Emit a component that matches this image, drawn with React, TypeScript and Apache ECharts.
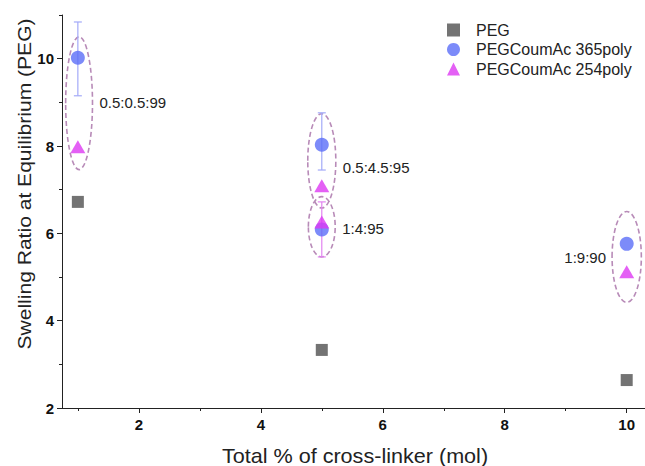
import React, { useEffect, useRef } from 'react';
import * as echarts from 'echarts';

const FONT = 'Arial, "Liberation Sans", Helvetica, sans-serif';

// Series data
const pegX = [1, 5, 10];
const pegValues = [6.72, 3.33, 2.64];
const coum365X = [1, 5, 5, 10];
const coum365Values = [10.02, 8.03, 6.09, 5.76];
const coum254X = [1, 5, 5, 10];
const coum254Values = [7.98, 7.09, 6.26, 5.12];

// Error bars
const blueErrX = [1, 5];
const blueErrLow = [9.15, 7.45];
const blueErrHigh = [10.84, 8.76];
const magErrX = [5];
const magErrLow = [5.46];
const magErrHigh = [6.72];

// Dashed group ellipses (data units) and their ratio labels
const groupX = [1.02, 5, 5, 10];
const groupY = [8.98, 7.66, 6.15, 5.46];
const groupRX = [0.22, 0.23, 0.22, 0.24];
const groupRY = [1.52, 1.08, 0.69, 1.04];
const groupLabels = ['0.5:0.5:99', '0.5:4.5:95', '1:4:95', '1:9:90'];
const groupLabelY = [8.99, 7.5, 6.12, 5.44];
const groupLabelSide = ['right', 'right', 'right', 'left'];

// Ticks
const xMajorTicks = [2, 4, 6, 8, 10];
const xMinorTicks = [1, 3, 5, 7, 9];
const yMajorTicks = [2, 4, 6, 8, 10];
const yMinorTicks = [3, 5, 7, 9, 11];

// Titles
const xTitle = 'Total % of cross-linker (mol)';
const yTitle = 'Swelling Ratio at Equilibrium (PEG)';

const X_MIN = 0.74;
const X_MAX = 10.3;
const Y_MIN = 2;
const Y_MAX = 11;

export default function App() {
  const ref = useRef<HTMLDivElement>(null);

  useEffect(() => {
    if (!ref.current) return;
    const chart = echarts.init(ref.current, null, { renderer: 'svg' });

    const axisLineStyle = { color: '#222', width: 1 };

    const errorRender = (color: string) => (params: any, api: any) => {
      const x = api.value(0);
      const lo = api.coord([x, api.value(1)]);
      const hi = api.coord([x, api.value(2)]);
      const cap = 4;
      const style = { stroke: color, lineWidth: 1.2, fill: 'none' };
      return {
        type: 'group',
        children: [
          { type: 'line', shape: { x1: lo[0], y1: lo[1], x2: hi[0], y2: hi[1] }, style },
          { type: 'line', shape: { x1: lo[0] - cap, y1: lo[1], x2: lo[0] + cap, y2: lo[1] }, style },
          { type: 'line', shape: { x1: hi[0] - cap, y1: hi[1], x2: hi[0] + cap, y2: hi[1] }, style },
        ],
      };
    };

    const option: any = {
      animation: false,
      backgroundColor: '#ffffff',
      textStyle: { fontFamily: FONT },
      grid: { left: 62, right: 0, top: 15, bottom: 58, containLabel: false },
      graphic: [
        {
          type: 'text',
          x: 355,
          y: 456,
          scaleX: 1.08,
          silent: true,
          style: {
            text: xTitle,
            fontSize: 20,
            fontFamily: FONT,
            fill: '#222',
            align: 'center',
            verticalAlign: 'middle',
          },
        },
        {
          type: 'text',
          x: 25,
          y: 184,
          rotation: Math.PI / 2,
          scaleX: 1.17,
          silent: true,
          style: {
            text: yTitle,
            fontSize: 18,
            fontFamily: FONT,
            fill: '#222',
            align: 'center',
            verticalAlign: 'middle',
          },
        },
      ],
      legend: {
        orient: 'vertical',
        left: 447,
        top: 22,
        padding: 0,
        itemWidth: 13,
        itemHeight: 13,
        itemGap: 3.5,
        textStyle: { fontSize: 16, color: '#222', fontFamily: FONT, padding: [0, 0, 0, 11], lineHeight: 16 },
        data: [
          { name: 'PEG', icon: 'rect', itemStyle: { borderWidth: 0 } },
          { name: 'PEGCoumAc 365poly', icon: 'circle' },
          { name: 'PEGCoumAc 254poly', icon: 'triangle' },
        ],
      },
      xAxis: [
        {
          type: 'value',
          min: X_MIN,
          max: X_MAX,
          position: 'bottom',
          axisLine: { show: true, lineStyle: axisLineStyle },
          axisTick: { show: true, inside: false, length: 5, customValues: xMajorTicks, lineStyle: axisLineStyle },
          axisLabel: {
            customValues: xMajorTicks,
            fontSize: 15,
            fontWeight: 'bold',
            color: '#111',
            margin: 9,
            fontFamily: FONT,
          },
          splitLine: { show: false },
        },
        {
          type: 'value',
          min: X_MIN,
          max: X_MAX,
          position: 'bottom',
          axisLine: { show: false },
          axisTick: { show: true, inside: false, length: 3, customValues: xMinorTicks, lineStyle: axisLineStyle },
          axisLabel: { show: false },
          splitLine: { show: false },
        },
      ],
      yAxis: [
        {
          type: 'value',
          min: Y_MIN,
          max: Y_MAX,
          position: 'left',
          axisLine: { show: true, lineStyle: axisLineStyle },
          axisTick: { show: true, inside: false, length: 5, customValues: yMajorTicks, lineStyle: axisLineStyle },
          axisLabel: {
            customValues: yMajorTicks,
            fontSize: 15,
            fontWeight: 'bold',
            color: '#111',
            margin: 8,
            fontFamily: FONT,
          },
          splitLine: { show: false },
        },
        {
          type: 'value',
          min: Y_MIN,
          max: Y_MAX,
          position: 'left',
          axisLine: { show: false },
          axisTick: { show: true, inside: false, length: 3, customValues: yMinorTicks, lineStyle: axisLineStyle },
          axisLabel: { show: false },
          splitLine: { show: false },
        },
      ],
      series: [
        {
          type: 'custom',
          name: 'groups',
          coordinateSystem: 'cartesian2d',
          clip: false,
          silent: true,
          z: 1,
          encode: { x: 0, y: 1 },
          data: groupX.map((x, i) => [x, groupY[i], groupRX[i], groupRY[i], groupLabelY[i]]),
          renderItem: (params: any, api: any) => {
            const i = params.dataIndex;
            const cx = api.value(0);
            const cy = api.value(1);
            const c = api.coord([cx, cy]);
            const e = api.coord([cx + api.value(2), cy + api.value(3)]);
            const prx = Math.abs(e[0] - c[0]);
            const pry = Math.abs(c[1] - e[1]);
            const ly = api.coord([cx, api.value(4)])[1];
            const right = groupLabelSide[i] === 'right';
            return {
              type: 'group',
              children: [
                {
                  type: 'ellipse',
                  shape: { cx: c[0], cy: c[1], rx: prx, ry: pry },
                  style: { fill: 'none', stroke: '#b88bb8', lineWidth: 1.6, lineDash: [5, 3] },
                },
                {
                  type: 'text',
                  x: right ? c[0] + prx + 7 : c[0] - prx - 6,
                  y: ly,
                  style: {
                    text: groupLabels[i],
                    fontSize: 15,
                    fontFamily: FONT,
                    fill: '#222',
                    align: right ? 'left' : 'right',
                    verticalAlign: 'middle',
                  },
                },
              ],
            };
          },
        },
        {
          type: 'custom',
          name: 'err365',
          coordinateSystem: 'cartesian2d',
          silent: true,
          z: 2,
          encode: { x: 0, y: [1, 2] },
          data: blueErrX.map((x, i) => [x, blueErrLow[i], blueErrHigh[i]]),
          renderItem: errorRender('#a3aaf8'),
        },
        {
          type: 'custom',
          name: 'err254',
          coordinateSystem: 'cartesian2d',
          silent: true,
          z: 2,
          encode: { x: 0, y: [1, 2] },
          data: magErrX.map((x, i) => [x, magErrLow[i], magErrHigh[i]]),
          renderItem: errorRender('#e283f0'),
        },
        {
          type: 'scatter',
          name: 'PEG',
          symbol: 'rect',
          symbolSize: 12,
          z: 3,
          itemStyle: { color: '#505050' },
          data: pegX.map((x, i) => [x, pegValues[i]]),
        },
        {
          type: 'scatter',
          name: 'PEGCoumAc 365poly',
          symbol: 'circle',
          symbolSize: 14,
          z: 4,
          itemStyle: { color: '#5b6ef7' },
          data: coum365X.map((x, i) => [x, coum365Values[i]]),
        },
        {
          type: 'scatter',
          name: 'PEGCoumAc 254poly',
          symbol: 'triangle',
          symbolSize: [15, 13],
          z: 5,
          itemStyle: { color: '#dd38f2' },
          data: coum254X.map((x, i) => [x, coum254Values[i]]),
        },
      ],
    };

    chart.setOption(option);
    return () => chart.dispose();
  }, []);

  return (
    <div
      ref={ref}
      style={{ position: 'fixed', left: 0, top: 0, width: 645, height: 466, background: '#fff' }}
    />
  );
}
